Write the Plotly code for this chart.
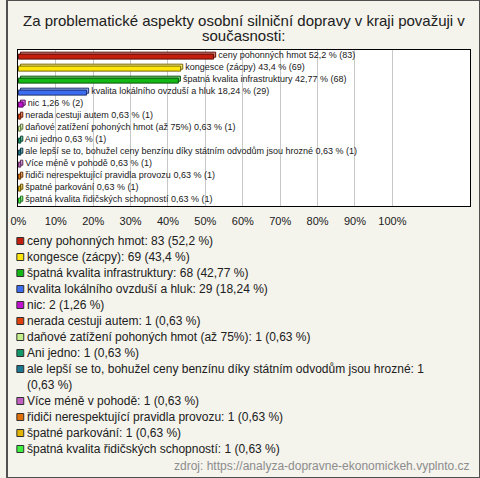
import plotly.graph_objects as go

# survey answers, in the order shown
labels = [
    "ceny pohonných hmot",
    "kongesce (zácpy)",
    "špatná kvalita infrastruktury",
    "kvalita lokálního ovzduší a hluk",
    "nic",
    "nerada cestuji autem",
    "daňové zatížení pohoných hmot (až 75%)",
    "Ani jedno",
    "ale lepší se to, bohužel ceny benzínu díky státním odvodům jsou hrozné",
    "Více méně v pohodě",
    "řidiči nerespektující pravidla provozu",
    "špatné parkování",
    "špatná kvalita řidičských schopností",
]
counts = [83, 69, 68, 29, 2, 1, 1, 1, 1, 1, 1, 1, 1]
percents = [52.2, 43.4, 42.77, 18.24, 1.26, 0.63, 0.63, 0.63, 0.63, 0.63, 0.63, 0.63, 0.63]
colors = ["#C41E0E", "#FFE60A", "#14B814", "#3C6CF0", "#C010D0", "#E0400C",
          "#C4F08C", "#109868", "#1C7890", "#C060C0", "#E07008", "#E0B400", "#40F040"]
tick_vals = [0, 10, 20, 30, 40, 50, 60, 70, 80, 90, 100]

W, H = 480, 478


def fmt(v):
    return f"{v:g}".replace(".", ",")


def shade(hexc, f):
    r, g, b = (int(hexc[i:i + 2], 16) for i in (1, 3, 5))
    if f < 1:
        r, g, b = int(r * f), int(g * f), int(b * f)
    else:
        k = f - 1
        r, g, b = int(r + (255 - r) * k), int(g + (255 - g) * k), int(b + (255 - b) * k)
    return f"rgb({r},{g},{b})"


def px_x(x):
    return x / W


def px_y(y):
    return 1 - y / H


bar_text = [f" {l} {fmt(p)} % ({c})" for l, p, c in zip(labels, percents, counts)]

fig = go.Figure()

# back face of the pseudo-3D bars (shifted right/up), carries the label
fig.add_trace(go.Bar(
    y=labels, x=percents, base=0.55, orientation="h",
    width=0.42, offset=-0.32,
    marker=dict(color=[shade(c, 1.45) for c in colors],
                line=dict(color=[shade(c, 0.45) for c in colors], width=1)),
    text=bar_text, textposition="outside", constraintext="none",
    textfont=dict(family="Liberation Sans", size=9, color="#202020"),
    cliponaxis=False, showlegend=False, hoverinfo="skip",
))
# front face
fig.add_trace(go.Bar(
    y=labels, x=percents, orientation="h",
    width=0.42, offset=-0.16,
    marker=dict(color=colors,
                line=dict(color=[shade(c, 0.45) for c in colors], width=1)),
    showlegend=False,
))

annotations = [
    dict(text="Za problematické aspekty osobní silniční dopravy v kraji považuji v",
         x=0.5, y=px_y(21), xref="paper", yref="paper", showarrow=False,
         yanchor="middle",
         font=dict(family="Liberation Sans", size=15, color="#202020")),
    dict(text="současnosti:",
         x=0.5, y=px_y(35), xref="paper", yref="paper", showarrow=False,
         yanchor="middle",
         font=dict(family="Liberation Sans", size=15, color="#202020")),
    dict(text="zdroj: https://analyza-dopravne-ekonomickeh.vyplnto.cz",
         x=px_x(471), y=px_y(466), xref="paper", yref="paper", showarrow=False,
         xanchor="right", yanchor="middle",
         font=dict(family="Liberation Sans", size=12, color="#8C8C8C")),
]
shapes = [
    dict(type="rect", xref="paper", yref="paper", x0=0, x1=1, y0=0, y1=1,
         line=dict(color="#505050", width=2)),
]

# custom legend below the chart
row_y = 241
for lab, c, p, col in zip(labels, counts, percents, colors):
    txt = f"{lab}: {c} ({fmt(p)} %)"
    lines = 1
    if len(txt) > 75:
        cut = txt.rfind(" ", 0, 75)
        txt = txt[:cut] + "<br>" + txt[cut + 1:]
        lines = 2
    shapes.append(dict(type="rect", xref="paper", yref="paper",
                       x0=px_x(10), x1=px_x(17), y0=px_y(row_y - 3.5), y1=px_y(row_y + 3.5),
                       fillcolor=col, line=dict(color="#303030", width=1)))
    annotations.append(dict(text=txt, x=px_x(18), y=px_y(row_y + (lines - 1) * 8),
                            xref="paper", yref="paper", showarrow=False,
                            xanchor="left", yanchor="middle", align="left",
                            font=dict(family="Liberation Sans", size=12, color="#202020")))
    row_y += 16 * lines

fig.update_layout(
    width=W, height=H,
    margin=dict(l=0, r=0, t=0, b=0),
    paper_bgcolor="#F4F3EC",
    plot_bgcolor="white",
    barmode="overlay",
    xaxis=dict(domain=[px_x(11), px_x(470)], range=[-0.15, 120.8],
               tickvals=tick_vals, ticktext=[f"{v}%" for v in tick_vals],
               showgrid=True, gridcolor="#C8C8C8", gridwidth=1, zeroline=False,
               showline=True, mirror=True, linecolor="#000000", linewidth=1,
               ticklabelstandoff=5,
               tickfont=dict(family="Liberation Sans", size=11, color="#202020"),
               fixedrange=True),
    yaxis=dict(domain=[px_y(206), px_y(50)], autorange="reversed",
               showticklabels=False, showgrid=False, zeroline=False,
               showline=True, mirror=True, linecolor="#000000", linewidth=1,
               fixedrange=True),
    annotations=annotations,
    shapes=shapes,
)

fig.write_html("out.html", config={"displayModeBar": False},
               post_script="document.body.style.margin='0';")
